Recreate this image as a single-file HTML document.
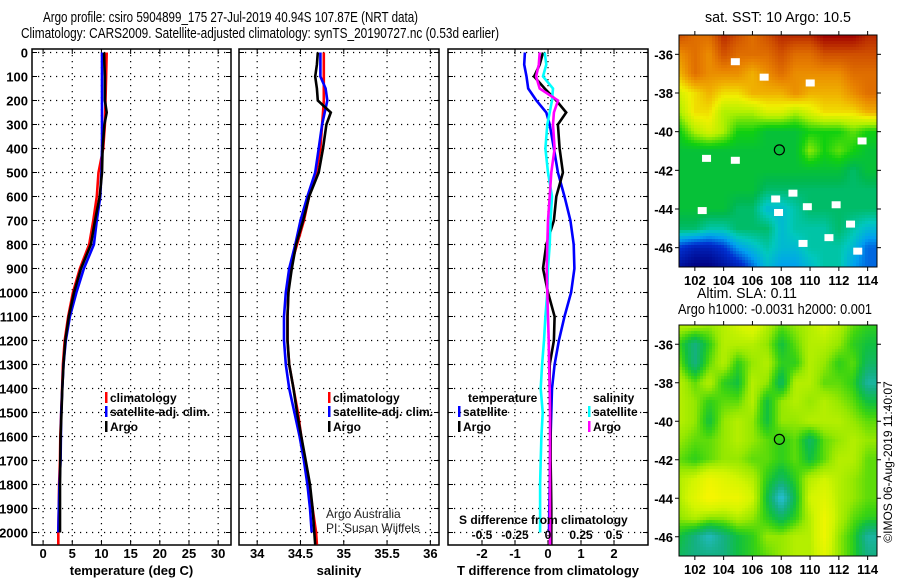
<!DOCTYPE html>
<html><head><meta charset="utf-8">
<style>
body{margin:0;background:#fff;}
svg{display:block;font-family:"Liberation Sans",sans-serif;}
.t{font-weight:bold;font-size:13px;fill:#000;}
.ttl{font-family:"Liberation Sans",sans-serif;font-size:15px;fill:#000;}
.lg{font-weight:bold;font-size:12px;fill:#000;}
</style></head>
<body>
<svg id="s" width="900" height="580" viewBox="0 0 900 580">
<text class="ttl" x="43" y="22" textLength="375" lengthAdjust="spacingAndGlyphs">Argo profile: csiro 5904899_175 27-Jul-2019 40.94S 107.87E (NRT data)</text>
<text class="ttl" x="21" y="38" textLength="478" lengthAdjust="spacingAndGlyphs">Climatology: CARS2009. Satellite-adjusted climatology: synTS_20190727.nc (0.53d earlier)</text>
<text class="ttl" x="705" y="22" textLength="146" lengthAdjust="spacingAndGlyphs">sat. SST: 10 Argo: 10.5</text>
<text class="ttl" x="697" y="298" textLength="100" lengthAdjust="spacingAndGlyphs">Altim. SLA: 0.11</text>
<text class="ttl" x="678" y="314" textLength="194" lengthAdjust="spacingAndGlyphs">Argo h1000: -0.0031 h2000: 0.001</text>
<text x="892" y="462" font-size="12" text-anchor="middle" transform="rotate(-90 892 462)">©IMOS 06-Aug-2019 11:40:07</text>
<g id="g"></g>
</svg>
<script>
// ---- profile data ----
const depths=[0,50,100,150,200,250,300,400,500,600,700,800,900,1000,1100,1200,1300,1400,1500,1600,1700,1800,1900,2000,2050];
const tempClim=[10.9,10.85,10.8,10.75,10.7,10.65,10.6,10.3,9.5,9.2,8.6,7.9,6.3,5.1,4.3,3.7,3.4,3.25,3.1,2.95,2.9,2.75,2.7,2.6,2.6];
const tempArgo=[10.45,10.5,10.6,10.6,10.6,10.9,10.5,10.2,10.1,9.7,8.9,8.2,6.5,5.3,4.4,3.8,3.5,3.3,3.15,3.0,2.95,2.9,2.9,2.9,null];
const tempSat=[10.1,10.1,10.1,10.1,10.1,10.1,10.1,10.1,10.0,9.8,9.2,8.7,7.0,5.7,4.6,3.9,3.5,3.3,3.1,3.05,3.0,2.8,2.7,2.6,null];
const salClim=[34.77,34.77,34.77,34.77,34.77,34.76,34.75,34.73,34.68,34.60,34.54,34.46,34.38,34.36,34.35,34.35,34.37,34.42,34.47,34.51,34.55,34.60,34.64,34.68,34.69];
const salArgo=[34.70,34.69,34.67,34.69,34.70,34.85,34.80,34.76,34.71,34.60,34.53,34.45,34.40,34.36,34.35,34.35,34.37,34.42,34.46,34.51,34.56,34.61,34.64,34.66,34.67];
const salSat=[34.73,34.73,34.73,34.79,34.81,34.78,34.75,34.71,34.67,34.58,34.50,34.44,34.37,34.33,34.31,34.31,34.33,34.37,34.43,34.49,34.54,34.58,34.61,34.63,null];
const dTsat=[-0.7,-0.72,-0.65,-0.6,-0.35,-0.05,0.05,0.18,0.3,0.5,0.68,0.78,0.8,0.7,0.5,0.33,0.2,0.12,0.1,0.08,0.06,0.05,0.04,0.03,null];
const dTargo=[-0.15,-0.25,-0.42,-0.1,0.25,0.55,0.3,0.35,0.45,0.25,0.18,-0.05,-0.15,0.0,0.2,0.18,0.05,0.05,0.07,0.08,0.08,0.09,0.1,0.1,0.1];
const dSargo=[-0.063,-0.07,-0.09,-0.063,0.076,0.045,0.038,0.05,0.025,0.013,0.0,-0.005,-0.01,-0.005,0.0,0.005,0.008,0.013,0.015,0.015,0.015,0.015,0.015,0.015,0.015];
const dSsat=[-0.025,-0.013,-0.038,0.038,0.03,0.013,-0.005,-0.02,0.0,0.03,0.02,0.013,0.0,-0.005,-0.02,-0.03,-0.045,-0.055,-0.04,-0.05,-0.055,-0.06,-0.06,-0.06,null];
const depthTicks=[0,100,200,300,400,500,600,700,800,900,1000,1100,1200,1300,1400,1500,1600,1700,1800,1900,2000];
const tempTicks=[0,5,10,15,20,25,30];
const salTicks=[34,34.5,35,35.5,36];
const salTickLabels=["34","34.5","35","35.5","36"];
const dTTicks=[-2,-1,0,1,2];
const dSTicks=[-0.5,-0.25,0,0.25,0.5];
const dSTickLabels=["-0.5","-0.25","0","0.25","0.5"];
// ---- map data (1-degree coarse fields, lon 101..114, lat -35..-47) ----
const mapLons=[101,102,103,104,105,106,107,108,109,110,111,112,113,114];
const mapLats=[-35,-36,-37,-38,-39,-40,-41,-42,-43,-44,-45,-46,-47];
const sstField=[
[.9,.85,.85,.95,.9,.85,.9,.95,.95,.95,1,1,1,.95],
[.8,.85,.8,.9,.85,.85,.85,.9,.85,.85,.9,.9,.9,.9],
[.75,.85,.8,.8,.8,.75,.8,.85,.8,.8,.8,.8,.85,.85],
[.65,.7,.75,.7,.7,.75,.75,.75,.8,.75,.75,.75,.8,.85],
[.6,.7,.7,.6,.6,.6,.65,.65,.6,.65,.7,.7,.7,.75],
[.5,.6,.65,.6,.5,.5,.45,.45,.45,.5,.5,.5,.55,.5],
[.45,.45,.45,.45,.45,.45,.45,.45,.45,.58,.5,.55,.5,.45],
[.45,.45,.45,.45,.45,.45,.45,.45,.45,.45,.45,.45,.4,.45],
[.45,.45,.45,.45,.45,.45,.4,.4,.4,.4,.4,.4,.4,.4],
[.45,.45,.45,.45,.4,.4,.3,.3,.35,.4,.4,.4,.4,.4],
[.4,.4,.35,.35,.4,.4,.4,.3,.35,.35,.35,.4,.35,.3],
[.15,.1,.1,.15,.25,.3,.35,.3,.3,.35,.35,.35,.3,.2],
[.05,0,0,.05,.1,.2,.3,.25,.25,.3,.35,.35,.25,.2]];
const slaField=[
[.6,.6,.55,.6,.65,.7,.6,.5,.55,.6,.65,.6,.5,.45],
[.45,.3,.45,.6,.6,.6,.55,.4,.5,.6,.6,.55,.45,.4],
[.5,.3,.5,.6,.45,.55,.6,.45,.45,.6,.55,.45,.5,.35],
[.6,.5,.6,.45,.4,.6,.55,.35,.6,.6,.5,.5,.45,.25],
[.6,.55,.45,.5,.5,.6,.4,.55,.6,.55,.6,.55,.5,.4],
[.6,.55,.4,.55,.6,.55,.4,.55,.55,.6,.6,.6,.55,.5],
[.55,.5,.5,.55,.6,.55,.5,.45,.5,.35,.5,.55,.6,.55],
[.5,.45,.5,.55,.55,.5,.5,.45,.5,.4,.5,.6,.6,.5],
[.6,.65,.75,.7,.65,.6,.45,.35,.45,.6,.65,.6,.55,.5],
[.6,.7,.8,.75,.75,.65,.4,.15,.4,.65,.7,.6,.55,.5],
[.55,.6,.55,.55,.6,.55,.45,.35,.45,.6,.75,.6,.5,.45],
[.4,.3,.2,.3,.4,.45,.55,.55,.6,.6,.75,.55,.45,.25],
[.35,.3,.3,.3,.4,.45,.5,.55,.6,.6,.7,.55,.45,.3]];
const sstGaps=[[104.5,-36.2],[106.5,-37],[109.7,-37.3],[102.5,-41.2],[104.5,-41.3],[107.3,-43.3],[108.5,-43],[109.5,-43.7],[111.5,-43.6],[112.5,-44.6],[107.5,-44],[109.2,-45.6],[111,-45.3],[113,-46],[102.2,-43.9],[113.3,-40.3]];
const mapLonTicks=[102,104,106,108,110,112,114];
const mapLatTicks=[-36,-38,-40,-42,-44,-46];
const argoLon=107.87, argoLat=-40.94;

const NS='http://www.w3.org/2000/svg';
const G=document.getElementById('g');
function el(tag,attrs,parent,text){const e=document.createElementNS(NS,tag);for(const k in attrs)e.setAttribute(k,attrs[k]);if(text!==undefined)e.textContent=text;(parent||G).appendChild(e);return e;}
const yTop=49,yBot=545;
function yD(d){return 52.5+d*0.24;}
function panel(name,x0,x1,xmin,xmax,ticks,labels,title){
  const g=el('g',{});
  
  
  const sx=v=>x0+(v-xmin)/(xmax-xmin)*(x1-x0);
  ticks.forEach((t,i)=>{const x=sx(t);
    const l=el('line',{x1:x,y1:yTop,x2:x,y2:yBot,stroke:'#000','stroke-width':1.2,'stroke-dasharray':'1.2 4.8'},g);
    
    el('line',{x1:x,y1:yTop,x2:x,y2:yTop+5,stroke:'#000'},g);
    el('line',{x1:x,y1:yBot,x2:x,y2:yBot-5,stroke:'#000'},g);
    const tx=el('text',{x:x,y:558,class:'t','text-anchor':'middle'},g,labels[i]);
    
  });
  depthTicks.forEach(d=>{const y=yD(d);
    el('line',{x1:x0,y1:y,x2:x1,y2:y,stroke:'#000','stroke-width':1.2,'stroke-dasharray':'1.2 4.8'},g);
    el('line',{x1:x0,y1:y,x2:x0+5,y2:y,stroke:'#000'},g);
    el('line',{x1:x1,y1:y,x2:x1-5,y2:y,stroke:'#000'},g);
  });
  const r=el('rect',{x:x0,y:yTop,width:x1-x0,height:yBot-yTop,fill:'none',stroke:'#000','stroke-width':1.5},g);
  
  if(title){const tt=el('text',{x:(x0+x1)/2,y:575,class:'t','text-anchor':'middle'},g,title);
    }
  return {g,sx};
}
function series(p,vals,color,name,tr){
  let pts=[];vals.forEach((v,i)=>{if(v!==null)pts.push(p.sx(tr?tr(v):v).toFixed(1)+','+yD(depths[i]).toFixed(1));});
  const pl=el('polyline',{points:pts.join(' '),fill:'none',stroke:color,'stroke-width':2.6,'stroke-linejoin':'miter'},p.g);
  
}
function legend(x,y,color,label,name,parent){
  const g=el('g',{},parent);
  
  el('rect',{x:x,y:y-10,width:2.5,height:11,fill:color},g);
  el('text',{x:x+5,y:y,class:'lg'},g,label);
}
depthTicks.forEach(d=>{const t=el('text',{x:28,y:yD(d)+5,class:'t','text-anchor':'end'},G,String(d));
  });
const p1=panel('temperature-panel',32,231,-1.9,32.2,tempTicks,tempTicks.map(String),'temperature (deg C)');
series(p1,tempClim,'#f00','temp-climatology-line');
series(p1,tempSat,'#00f','temp-satellite-line');
series(p1,tempArgo,'#000','temp-argo-line');
legend(105,402,'#f00','climatology','legend-climatology',p1.g);
legend(105,416,'#00f','satellite-adj. clim.','legend-satellite-adj',p1.g);
legend(105,431,'#000','Argo','legend-argo',p1.g);
const p2=panel('salinity-panel',239,439,33.79,36.1,salTicks,salTickLabels,'salinity');
series(p2,salClim,'#f00','sal-climatology-line');
series(p2,salSat,'#00f','sal-satellite-line');
series(p2,salArgo,'#000','sal-argo-line');
legend(328,402,'#f00','climatology','legend-climatology',p2.g);
legend(328,416,'#00f','satellite-adj. clim.','legend-satellite-adj',p2.g);
legend(328,431,'#000','Argo','legend-argo',p2.g);
const c1=el('text',{x:326,y:518,'font-size':12,fill:'#222'},p2.g,'Argo Australia');

const c2=el('text',{x:326,y:532,'font-size':12,fill:'#222'},p2.g,'PI: Susan Wijffels');

const p3=panel('difference-panel',448,648,-3.03,3.03,dTTicks,dTTicks.map(String),'T difference from climatology');
const sScale=v=>v*4;
series(p3,dTsat,'#00f','dT-satellite-line');
series(p3,dTargo,'#000','dT-argo-line');
series(p3,dSsat,'#0ff','dS-satellite-line',sScale);
series(p3,dSargo,'#f0f','dS-argo-line',sScale);
const lt=el('text',{x:468,y:402,class:'lg'},p3.g,'temperature');
legend(458,416,'#00f','satellite','legend-temp-satellite',p3.g);
legend(458,431,'#000','Argo','legend-temp-argo',p3.g);
const ls=el('text',{x:593,y:402,class:'lg'},p3.g,'salinity');
legend(588,416,'#0ff','satellite','legend-sal-satellite',p3.g);
legend(588,431,'#f0f','Argo','legend-sal-argo',p3.g);
const sdt=el('text',{x:459,y:524,class:'lg'},p3.g,'S difference from climatology');
dSTicks.forEach((v,i)=>{const t=el('text',{x:p3.sx(sScale(v)),y:539,class:'lg','text-anchor':'middle'},p3.g,dSTickLabels[i]);
  });
// ---- maps ----
function lerpColor(stops,v){v=Math.max(0,Math.min(1,v));for(let i=1;i<stops.length;i++){if(v<=stops[i][0]){const a=stops[i-1],b=stops[i],f=(v-a[0])/(b[0]-a[0]||1);
  const c=a[1].map((x,k)=>Math.round(x+(b[1][k]-x)*f));return 'rgb('+c.join(',')+')';}}const l=stops[stops.length-1][1];return 'rgb('+l.join(',')+')';}
const sstStops=[[0,[0,0,128]],[0.15,[0,48,208]],[0.25,[0,160,240]],[0.33,[0,200,190]],[0.42,[0,184,80]],[0.5,[16,208,16]],[0.6,[176,240,0]],[0.68,[240,240,0]],[0.75,[240,176,0]],[0.82,[232,128,0]],[0.9,[208,80,0]],[1,[160,0,0]]];
const slaStops=[[0,[32,176,230]],[0.15,[40,190,220]],[0.3,[20,176,130]],[0.4,[16,192,64]],[0.47,[60,212,16]],[0.55,[150,232,0]],[0.65,[210,245,0]],[0.78,[245,245,0]],[1,[245,245,0]]];
function field(f,lon,lat){const fx=Math.max(0,Math.min(mapLons.length-1.001,lon-mapLons[0])),fy=Math.max(0,Math.min(mapLats.length-1.001,mapLats[0]-lat));
  const i=Math.floor(fx),j=Math.floor(fy),a=fx-i,b=fy-j;
  return f[j][i]*(1-a)*(1-b)+f[j][i+1]*a*(1-b)+f[j+1][i]*(1-a)*b+f[j+1][i+1]*a*b;}
function drawMap(name,y0,y1,latTop,latBot,f,stops,cell,gaps){
  const x0=679,x1=877,lonL=100.9,lonR=114.65;
  const g=el('g',{});
  const sx=lo=>x0+(lo-lonL)/(lonR-lonL)*(x1-x0), sy=la=>y0+(latTop-la)/(latTop-latBot)*(y1-y0);
  for(let y=y0;y<y1;y+=cell)for(let x=x0;x<x1;x+=cell){
    const lo=lonL+(x+cell/2-x0)/(x1-x0)*(lonR-lonL),la=latTop-(y+cell/2-y0)/(y1-y0)*(latTop-latBot);
    el('rect',{x:x,y:y,width:Math.min(cell,x1-x),height:Math.min(cell,y1-y),fill:lerpColor(stops,field(f,lo,la))},g);}
  if(gaps)gaps.forEach(p=>el('rect',{x:sx(p[0]),y:sy(p[1]),width:9,height:7,fill:'#fff'},g));
  const mk=el('circle',{cx:sx(argoLon),cy:sy(argoLat),r:5,fill:'none',stroke:'#000','stroke-width':1.2},g);
  
  el('rect',{x:x0,y:y0,width:x1-x0,height:y1-y0,fill:'none',stroke:'#000','stroke-width':1},g);
  mapLonTicks.forEach(lo=>{const x=sx(lo);el('line',{x1:x,y1:y0,x2:x,y2:y0-4,stroke:'#000'},g);el('line',{x1:x,y1:y1,x2:x,y2:y1+4,stroke:'#000'},g);
    const t=el('text',{x:x,y:y1+18,class:'t','text-anchor':'middle'},g,String(lo));});
  mapLatTicks.forEach(la=>{const y=sy(la);el('line',{x1:x0,y1:y,x2:x0-4,y2:y,stroke:'#000'},g);el('line',{x1:x1,y1:y,x2:x1+4,y2:y,stroke:'#000'},g);
    const t=el('text',{x:673,y:y+5,class:'t','text-anchor':'end'},g,String(la));});
}
drawMap('sst-map',35,267,-35,-47,sstField,sstStops,3,sstGaps);
drawMap('sla-map',325,556,-35,-47,slaField,slaStops,3,null);
</script>
</body></html>
